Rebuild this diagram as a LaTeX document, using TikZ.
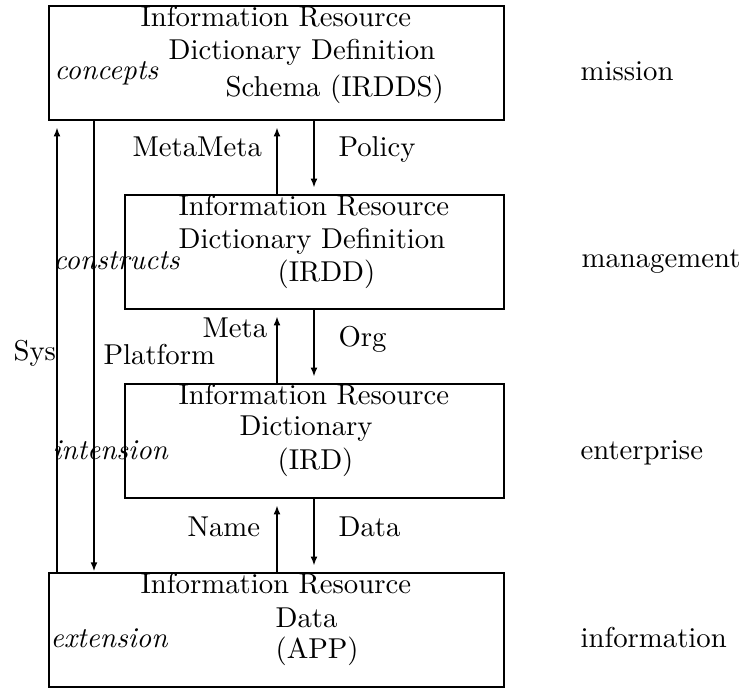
\documentclass[tikz,border=0pt]{standalone}
\usetikzlibrary{arrows.meta,fit}
\begin{document}
\begin{tikzpicture}[x=0.348pt, y=-0.348pt,
  every node/.style={font=\fontsize{10}{12}\selectfont, inner sep=0pt},
  levelbox/.style={draw, line width=1pt, inner sep=0pt},
  txt/.style={anchor=base west},
  role/.style={anchor=base west, font=\fontsize{10}{12}\selectfont\itshape},
  flow/.style={line width=0.8pt, -{Latex[length=3.2pt, width=2.4pt]}},
  flowgap/.style={flow, shorten >=2pt}]
\useasboundingbox (0,0) rectangle (741,688);

% the four dictionary levels
\node[levelbox, fit={(49,6) (504,120)}] (irdds) {};
\node[levelbox, fit={(125,195) (504,309)}] (irdd) {};
\node[levelbox, fit={(125,384) (504,498)}] (ird) {};
\node[levelbox, fit={(49,573) (504,687)}] (app) {};

% vertical positions of the connectors
\coordinate (xsys) at (57,0);
\coordinate (xplat) at (94,0);
\coordinate (xup) at (277,0);
\coordinate (xdown) at (314,0);

% level titles
\node[txt] (t1a) at (140,27) {Information Resource};
\node[txt] (t1b) at (168,60) {Dictionary Definition};
\node[txt] (t1c) at (225,97) {Schema (IRDDS)};

\node[txt] (t2a) at (178,216) {Information Resource};
\node[txt] (t2b) at (178,249) {Dictionary Definition};
\node[txt] (t2c) at (277,282) {(IRDD)};

\node[txt] (t3a) at (178,405) {Information Resource};
\node[txt] (t3b) at (239,436) {Dictionary};
\node[txt] (t3c) at (277,470) {(IRD)};

\node[txt] (t4a) at (140,594) {Information Resource};
\node[txt] (t4b) at (275,628) {Data};
\node[txt] (t4c) at (275,659) {(APP)};

% roles on the left
\node[role] (r1) at (54,80) {concepts};
\node[role] (r2) at (53,270) {constructs};
\node[role] (r3) at (52,460) {intension};
\node[role] (r4) at (50,648) {extension};

% scopes on the right
\node[txt] (s1) at (580,81) {mission};
\node[txt] (s2) at (581,268) {management};
\node[txt] (s3) at (580,460) {enterprise};
\node[txt] (s4) at (580,648) {information};

% connectors between levels
\draw[flowgap] (app.north -| xsys) -- (irdds.south -| xsys);
\draw[flow] (irdds.south -| xplat) -- (app.north -| xplat);
\draw[flowgap] (irdd.north -| xup) -- (irdds.south -| xup);
\draw[flowgap] (irdds.south -| xdown) -- (irdd.north -| xdown);
\draw[flowgap] (ird.north -| xup) -- (irdd.south -| xup);
\draw[flowgap] (irdd.south -| xdown) -- (ird.north -| xdown);
\draw[flowgap] (app.north -| xup) -- (ird.south -| xup);
\draw[flowgap] (ird.south -| xdown) -- (app.north -| xdown);

% connector labels
\node[txt] (lmm) at (132,157) {MetaMeta};
\node[txt] (lpol) at (338,157) {Policy};
\node[txt] (lmeta) at (202,338) {Meta};
\node[txt] (lorg) at (338,347) {Org};
\node[txt] (lsys) at (13,361) {Sys};
\node[txt] (lplat) at (103,365) {Platform};
\node[txt] (lname) at (187,537) {Name};
\node[txt] (ldata) at (338,537) {Data};
\end{tikzpicture}
\end{document}
